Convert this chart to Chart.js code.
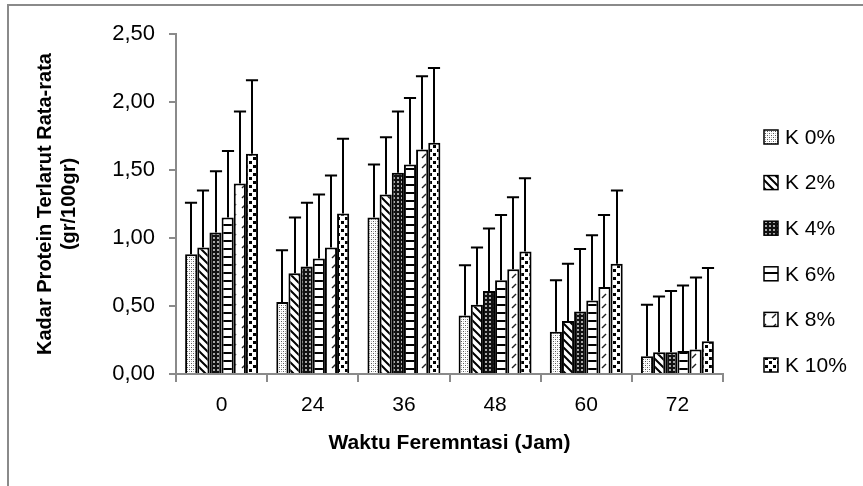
<!DOCTYPE html>
<html><head><meta charset="utf-8">
<script src="https://cdn.jsdelivr.net/npm/chart.js@4.4.1/dist/chart.umd.min.js"></script>
<style>html,body{margin:0;padding:0;background:#fff}canvas{display:block}</style>
</head><body>
<canvas id="c" width="863" height="486"></canvas>
<script>
// ---- data ----
const categories = ['0', '24', '36', '48', '60', '72'];
const seriesLabels = ['K 0%', 'K 2%', 'K 4%', 'K 6%', 'K 8%', 'K 10%'];
const k0  = [0.88, 0.53, 1.15, 0.43, 0.31, 0.13];
const k2  = [0.93, 0.74, 1.32, 0.51, 0.39, 0.16];
const k4  = [1.04, 0.79, 1.48, 0.61, 0.46, 0.16];
const k6  = [1.15, 0.85, 1.54, 0.69, 0.54, 0.17];
const k8  = [1.40, 0.93, 1.65, 0.77, 0.64, 0.18];
const k10 = [1.62, 1.18, 1.70, 0.90, 0.81, 0.24];
// upper error amounts
const e0  = [0.38, 0.38, 0.39, 0.37, 0.38, 0.38];
const e2  = [0.42, 0.41, 0.42, 0.42, 0.42, 0.41];
const e4  = [0.45, 0.47, 0.45, 0.46, 0.46, 0.45];
const e6  = [0.49, 0.47, 0.49, 0.48, 0.48, 0.48];
const e8  = [0.53, 0.53, 0.54, 0.53, 0.53, 0.53];
const e10 = [0.54, 0.55, 0.55, 0.54, 0.54, 0.54];
const yTicks = [0, 0.5, 1, 1.5, 2, 2.5];
const yTitle = ['Kadar Protein Terlarut Rata-rata', '(gr/100gr)'];
const xTitle = 'Waktu Feremntasi (Jam)';

const values = [k0, k2, k4, k6, k8, k10];
const errors = [e0, e2, e4, e6, e8, e10];

// ---- patterns ----
function tile(w, h, draw) {
  const c = document.createElement('canvas');
  c.width = w; c.height = h;
  const g = c.getContext('2d');
  g.fillStyle = '#fff'; g.fillRect(0, 0, w, h);
  draw(g);
  return document.getElementById('c').getContext('2d').createPattern(c, 'repeat');
}
const patterns = [
  tile(4, 4, g => { g.fillStyle = '#555'; g.fillRect(1, 1, 1, 1); g.fillRect(3, 3, 1, 1); g.fillStyle = '#b5b5b5'; g.fillRect(3, 1, 1, 1); g.fillRect(1, 3, 1, 1); }),
  tile(8, 8, g => { g.strokeStyle = '#000'; g.lineWidth = 2; g.beginPath(); g.moveTo(-2, -2); g.lineTo(10, 10); g.moveTo(-2, 6); g.lineTo(2, 10); g.moveTo(6, -2); g.lineTo(10, 2); g.stroke(); }),
  tile(4, 4, g => { g.fillStyle = '#111'; g.fillRect(0, 0, 4, 4); g.fillStyle = '#a8a8a8'; g.fillRect(1, 1, 2, 2); }),
  tile(8, 8, g => { g.fillStyle = '#000'; g.fillRect(0, 0, 8, 2); }),
  tile(10, 10, g => { g.strokeStyle = '#222'; g.lineWidth = 1.5; g.beginPath(); g.moveTo(2, 8); g.lineTo(6, 4); g.stroke(); }),
  tile(8, 8, g => { g.fillStyle = '#000'; g.fillRect(1, 1, 3, 3); g.fillRect(5, 5, 3, 3); })
];

const datasets = seriesLabels.map((lab, i) => ({
  label: lab,
  data: values[i],
  backgroundColor: patterns[i],
  borderColor: '#000',
  borderWidth: 2,
  borderSkipped: 'bottom',
  categoryPercentage: 0.8,
  barPercentage: 1.0
}));

const framePlugin = {
  id: 'frame',
  beforeDraw(chart) {
    const ctx = chart.ctx;
    ctx.save();
    ctx.fillStyle = '#fff';
    ctx.fillRect(0, 0, chart.width, chart.height);
    ctx.strokeStyle = '#8a8a8a';
    ctx.lineWidth = 2;
    ctx.strokeRect(8, 5, chart.width + 20, chart.height + 20);
    ctx.restore();
  }
};

const errorPlugin = {
  id: 'errbars',
  afterDatasetsDraw(chart) {
    const ctx = chart.ctx, ys = chart.scales.y;
    ctx.save();
    ctx.strokeStyle = '#000';
    ctx.lineWidth = 2;
    chart.data.datasets.forEach((ds, i) => {
      const meta = chart.getDatasetMeta(i);
      meta.data.forEach((bar, j) => {
        const top = ys.getPixelForValue(ds.data[j] + errors[i][j]);
        const x = Math.round(bar.x);
        const hw = bar.width / 2;
        ctx.beginPath();
        ctx.moveTo(x, bar.y);
        ctx.lineTo(x, top);
        ctx.moveTo(x - hw, top);
        ctx.lineTo(x + hw, top);
        ctx.stroke();
      });
    });
    ctx.restore();
  }
};

const legendPlugin = {
  id: 'sideLegend',
  afterDraw(chart) {
    const ctx = chart.ctx;
    ctx.save();
    const x0 = 764, top = 137, step = 45.6, box = 14;
    ctx.font = '21px "Liberation Sans", Arial, sans-serif';
    ctx.textBaseline = 'middle';
    chart.data.datasets.forEach((ds, i) => {
      const y = top + i * step;
      ctx.fillStyle = ds.backgroundColor;
      ctx.fillRect(x0, y - box / 2, box, box);
      ctx.strokeStyle = '#000';
      ctx.lineWidth = 1.5;
      ctx.strokeRect(x0, y - box / 2, box, box);
      ctx.fillStyle = '#000';
      ctx.fillText(ds.label, x0 + 21, y + 1);
    });
    ctx.restore();
  }
};

Chart.defaults.font.family = '"Liberation Sans", Arial, sans-serif';
Chart.defaults.color = '#000';

new Chart(document.getElementById('c'), {
  type: 'bar',
  data: { labels: categories, datasets },
  options: {
    responsive: false,
    animation: false,
    layout: { padding: { top: 34, right: 140, bottom: 0, left: 0 } },
    plugins: { legend: { display: false }, tooltip: { enabled: false } },
    scales: {
      x: {
        offset: true,
        grid: { offset: true, drawOnChartArea: false, drawTicks: true, tickLength: 8, color: '#8a8a8a', lineWidth: 2 },
        border: { color: '#8a8a8a', width: 2 },
        ticks: { color: '#000', font: { size: 21 }, padding: 11 },
        title: { display: true, text: xTitle, color: '#000', font: { size: 21, weight: 'bold' }, padding: { top: 0, bottom: 30 } },
        afterFit(s) { s.height = 112; }
      },
      y: {
        min: 0, max: 2.5,
        afterBuildTicks(s) { s.ticks = yTicks.map(v => ({ value: v })); },
        grid: { drawOnChartArea: false, drawTicks: true, tickLength: 7, color: '#8a8a8a', lineWidth: 2 },
        border: { color: '#8a8a8a', width: 2 },
        ticks: { color: '#000', font: { size: 22 }, padding: 14, callback: v => v.toFixed(2).replace('.', ',') },
        title: { display: true, text: yTitle, color: '#000', font: { size: 20, weight: 'bold' }, padding: { top: 33, bottom: 0 } },
        afterFit(s) { s.width = 176; }
      }
    }
  },
  plugins: [framePlugin, errorPlugin, legendPlugin]
});
</script>
</body></html>
